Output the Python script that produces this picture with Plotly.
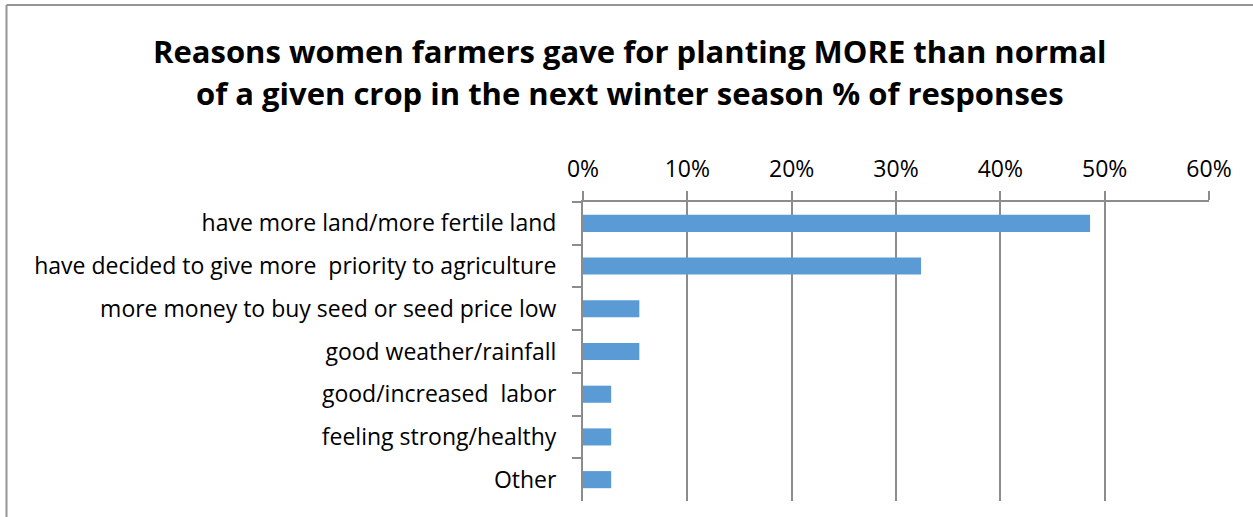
import plotly.graph_objects as go

# Survey responses (% of responses)
reasons = [
    "have more land/more fertile land",
    "have decided to give more  priority to agriculture",
    "more money to buy seed or seed price low",
    "good weather/rainfall",
    "good/increased  labor",
    "feeling strong/healthy",
    "Other",
]
shares = [48.6, 32.4, 5.4, 5.4, 2.7, 2.7, 2.7]
x_ticks = [0, 10, 20, 30, 40, 50, 60]
x_tick_labels = ["0%", "10%", "20%", "30%", "40%", "50%", "60%"]

title_lines = [
    "Reasons women farmers gave for planting MORE than normal",
    "of a given crop in the next winter season % of responses",
]

FONT = "Open Sans, sans-serif"
GRID = "#8c8c8c"

fig = go.Figure(
    go.Bar(
        x=shares,
        y=reasons,
        orientation="h",
        marker=dict(color="#5B9BD5", line=dict(width=0)),
        hoverinfo="x+y",
    )
)

W, H = 1253, 517
ML, MR, MT, MB = 583, 44, 202, 16
pw, ph = W - ML - MR, H - MT - MB

def px_x(px):
    return (px - ML) / pw

def px_y(py):
    return 1 - (py - MT) / ph

fig.update_layout(
    width=W,
    height=H,
    margin=dict(l=ML, r=MR, t=MT, b=MB),
    paper_bgcolor="white",
    plot_bgcolor="white",
    bargap=0.6,
    showlegend=False,
    font=dict(family=FONT, size=23, color="#000000"),
    xaxis=dict(
        side="top",
        range=[0, 60],
        tickmode="array",
        tickvals=x_ticks,
        ticktext=x_tick_labels,
        ticks="outside",
        ticklen=9,
        tickwidth=2,
        tickcolor=GRID,
        showgrid=True,
        gridcolor=GRID,
        gridwidth=2,
        showline=True,
        linecolor=GRID,
        linewidth=2,
        zeroline=False,
        tickfont=dict(family=FONT, size=23, color="#000000"),
        ticklabelstandoff=5,
    ),
    yaxis=dict(
        autorange="reversed",
        type="category",
        ticks="outside",
        tickson="boundaries",
        ticklen=9,
        tickwidth=2,
        tickcolor=GRID,
        showgrid=False,
        showline=True,
        linecolor=GRID,
        linewidth=2,
        tickfont=dict(family=FONT, size=23, color="#000000"),
        ticklabelstandoff=20,
    ),
)

# Title, two centred lines
for text, centre_y in zip(title_lines, [52, 94]):
    fig.add_annotation(
        text="<b>%s</b>" % text,
        xref="paper", yref="paper",
        x=px_x(630), y=px_y(centre_y - 1),
        xanchor="center", yanchor="middle",
        showarrow=False,
        font=dict(family=FONT, size=31, color="#000000"),
    )

# Chart area frame (left and top edges)
fx, fy = px_x(6.5), px_y(5)
fig.add_shape(type="line", xref="paper", yref="paper",
              x0=fx, x1=fx, y0=px_y(520), y1=fy,
              line=dict(color="#959595", width=2))
fig.add_shape(type="line", xref="paper", yref="paper",
              x0=fx, x1=px_x(1260), y0=fy, y1=fy,
              line=dict(color="#959595", width=2))

fig.write_html("out.html")
